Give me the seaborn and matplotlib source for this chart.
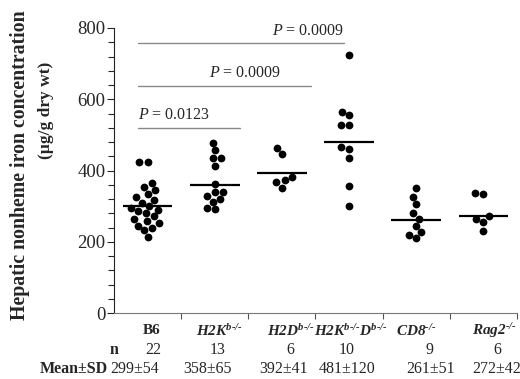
import numpy as np
import pandas as pd
import matplotlib
matplotlib.use("Agg")
import matplotlib.pyplot as plt
from matplotlib.ticker import MultipleLocator
import seaborn as sns

# ---- data ----
groups = ["B6", "H2K", "H2D", "H2KD", "CD8", "Rag2"]
H = "\u2010"  # hyphen
group_labels = [r"B6",
                r"$\mathbf{H2K}^{\mathbf{b" + H + "/" + H + "}}$",
                r"$\mathbf{H2D}^{\mathbf{b" + H + "/" + H + "}}$",
                r"$\mathbf{H2K}^{\mathbf{b" + H + "/" + H + "}}\mathbf{D}^{\mathbf{b" + H + "/" + H + "}}$",
                r"$\mathbf{CD8}^{\mathbf{" + H + "/" + H + "}}$",
                r"$\mathbf{Rag2}^{\mathbf{" + H + "/" + H + "}}$"]
b6 = [425, 425, 365, 355, 345, 335, 325, 318, 310, 300, 295, 290, 285, 280,
      272, 265, 258, 252, 245, 240, 232, 212]
h2k = [478, 457, 434, 434, 413, 362, 340, 340, 328, 319, 312, 294, 291]
h2d = [462, 445, 383, 372, 368, 352]
h2kd = [724, 565, 555, 527, 527, 467, 460, 434, 356, 301]
cd8 = [352, 325, 305, 280, 265, 245, 228, 218, 210]
rag2 = [338, 335, 272, 265, 255, 230]
n_vals = [22, 13, 6, 10, 9, 6]
mean_sd = ["299±54", "358±65", "392±41", "481±120", "261±51", "272±42"]
means = [299, 358, 392, 481, 261, 272]
# significance comparisons: (from group, to group, y level, p label)
comparisons = [("B6", "H2K", 520, "0.0123"),
               ("B6", "H2D", 638, "0.0009"),
               ("B6", "H2KD", 758, "0.0009")]

values = [b6, h2k, h2d, h2kd, cd8, rag2]
df = pd.DataFrame({
    "group": np.concatenate([[g] * len(v) for g, v in zip(groups, values)]),
    "iron": np.concatenate(values),
})

sns.set_style("ticks")
plt.rcParams["font.family"] = ["Liberation Serif", "DejaVu Serif"]
plt.rcParams["mathtext.fontset"] = "custom"
plt.rcParams["mathtext.bf"] = "Liberation Serif:style=italic:weight=bold"
plt.rcParams["mathtext.it"] = "Liberation Serif:style=italic"
plt.rcParams["mathtext.rm"] = "Liberation Serif"

fig = plt.figure(figsize=(5.2, 3.79), dpi=100)
ax = fig.add_axes([114 / 520, 1 - 313 / 379, (517 - 114) / 520, (313 - 28) / 379])

sns.swarmplot(data=df, x="group", y="iron", order=groups, color="black",
              size=5.6, ax=ax, zorder=3)

pos = {g: i for i, g in enumerate(groups)}
ax.hlines(means, np.arange(len(groups)) - 0.37, np.arange(len(groups)) + 0.37,
          color="black", lw=1.6, zorder=4)

line_ends = {"H2K": 1.38, "H2D": 2.43, "H2KD": 2.92}
for g1, g2, yv, lab in comparisons:
    x0 = pos[g1] - 0.15
    x1 = line_ends[g2]
    ax.plot([x0, x1], [yv, yv], color="#8a8a8a", lw=1.0)
    if g2 == "H2K":
        tx, ha = x0, "left"
    elif g2 == "H2D":
        tx, ha = 1.45, "center"
    else:
        tx, ha = x1, "right"
    ax.text(tx, yv + 12, r"$P$ = " + lab, ha=ha, va="bottom", fontsize=11.5)

ax.set_xlim(-0.5, 5.5)
ax.set_ylim(0, 800)
ax.set_xticks(np.arange(len(groups)) + 0.5)
ax.set_xticklabels([])
ax.set_xlabel("")
ax.set_ylabel("")
ax.yaxis.set_major_locator(MultipleLocator(200))
ax.yaxis.set_minor_locator(MultipleLocator(40))
ax.tick_params(axis="y", which="major", length=5, width=0.8, labelsize=13.5, pad=1)
ax.tick_params(axis="y", which="minor", length=4, width=0.8)
ax.tick_params(axis="x", which="major", length=4, width=0.8, color="#555555")
sns.despine(ax=ax)
ax.spines["bottom"].set_color("#777777")
ax.spines["left"].set_color("#222222")

# y label (two lines, placed separately as in reference)
fig.text(20 / 520, 1 - 165 / 379, "Hepatic nonheme iron concentration",
         rotation=90, ha="center", va="center", fontsize=14.3, fontweight="bold")
fig.text(46 / 520, 1 - 110 / 379, "(µg/g dry wt)",
         rotation=90, ha="center", va="center", fontsize=12.5, fontweight="bold")

# table below axis
lab_x = [152, 219, 291, 351, 416, 494]
n_x = [153, 218, 290, 347, 430, 497]
m_x = [135, 207, 284, 347, 431, 497]
for i, lab in enumerate(group_labels):
    fig.text(lab_x[i] / 520, 1 - 331 / 379, lab, ha="center", va="center",
             fontsize=11, fontweight="bold")
    fig.text(n_x[i] / 520, 1 - 350 / 379, str(n_vals[i]), ha="center",
             va="center", fontsize=11.5)
    fig.text(m_x[i] / 520, 1 - 369 / 379, mean_sd[i], ha="center",
             va="center", fontsize=11.5)
fig.text(118 / 520, 1 - 350 / 379, "n", ha="right", va="center",
         fontsize=11.5, fontweight="bold")
fig.text(108 / 520, 1 - 369 / 379, "Mean±SD", ha="right", va="center",
         fontsize=11.5, fontweight="bold")

fig.savefig("out.png", dpi=100)
